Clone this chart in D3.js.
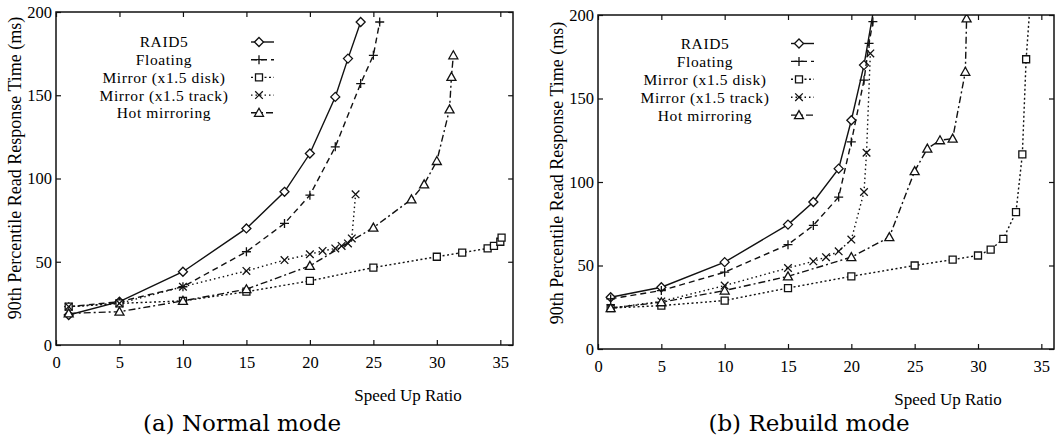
<!DOCTYPE html>
<html>
<head>
<meta charset="utf-8">
<script src="https://cdnjs.cloudflare.com/ajax/libs/d3/7.8.5/d3.min.js"></script>
<style>
  body { margin: 0; background: #fff; }
  svg { display: block; }
</style>
</head>
<body>
<svg id="chart" width="1056" height="443"></svg>
<script>
const seriesNames = ["RAID5", "Floating", "Mirror (x1.5 disk)", "Mirror (x1.5 track)", "Hot mirroring"];
const xTicks = [0, 5, 10, 15, 20, 25, 30, 35];
const yTicks = [0, 50, 100, 150, 200];

// (a) normal mode: [speed up ratio, 90th percentile ms]
const normalRaid5 = [[1, 18], [5, 26], [10, 44], [15, 70], [18, 92], [20, 115], [22, 149], [23, 172], [24, 194]];
const normalFloating = [[1, 23], [5, 26], [10, 35], [15, 56], [18, 73], [20, 90], [22, 119], [24, 157], [25, 174], [25.5, 194]];
const normalMirrorDisk = [[1, 23], [5, 25], [10, 26.5], [15, 32], [20, 38.5], [25, 46.5], [30, 53], [32, 55.5], [34, 58], [34.5, 59.5], [35, 62], [35.1, 64.5]];
const normalMirrorTrack = [[1, 23], [5, 25], [10, 35], [15, 44.5], [18, 51], [20, 54.5], [21, 56.5], [22, 58], [22.5, 59.5], [23, 61], [23.3, 64], [23.6, 90.5]];
const normalHot = [[1, 19], [5, 20], [10, 26.5], [15, 33.5], [20, 47.5], [25, 70.5], [28, 87.5], [29, 96.5], [30, 110.5], [31, 141.5], [31.15, 161], [31.3, 174]];

// (b) rebuild mode
const rebuildRaid5 = [[1, 31], [5, 37], [10, 52], [15, 74.5], [17, 88], [19, 108], [20, 137], [21, 170], [21.8, 205]];
const rebuildFloating = [[1, 30], [5, 35], [10, 46], [15, 62.5], [17, 74], [19, 91], [20, 124], [21, 161], [21.4, 183], [21.7, 196]];
const rebuildMirrorDisk = [[1, 24.5], [5, 26], [10, 29], [15, 36.5], [20, 43.5], [25, 50], [28, 53.5], [30, 56], [31, 59.5], [32, 66], [33, 82], [33.5, 116.5], [33.8, 173.5], [34.1, 205]];
const rebuildMirrorTrack = [[1, 24.5], [5, 28.5], [10, 38], [15, 48.5], [17, 52.5], [18, 55], [19, 58.5], [20, 65.5], [21, 94], [21.2, 117.5], [21.5, 177]];
const rebuildHot = [[1, 24.5], [5, 28], [10, 35], [15, 43.5], [20, 55], [23, 67], [25, 106.5], [26, 120], [27, 125], [28, 126], [29, 166], [29.1, 198]];

const lineStyles = [
    { dash: null, marker: "diamond" },
    { dash: "6,4", marker: "plus" },
    { dash: "2,2.5", marker: "square" },
    { dash: "1.5,3", marker: "cross" },
    { dash: "7,3,2,3", marker: "triangle" }
];

const markerPaths = {
    diamond: "M0,-4.5L4.5,0L0,4.5L-4.5,0Z",
    plus: "M-4.5,0H4.5M0,-4.5V4.5",
    square: "M-3.5,-3.5H3.5V3.5H-3.5Z",
    cross: "M-3.8,-3.8L3.8,3.8M-3.8,3.8L3.8,-3.8",
    triangle: "M0,-4.5L4.5,3.5L-4.5,3.5Z"
};

const panels = [
    {
        id: "a", left: 56, right: 513, top: 12, bottom: 345,
        caption: "(a) Normal mode", captionX: 242, yLabelX: 15, yLabelY: 168, xLabelX: 408,
        legendTextX: 164, legendY: 42, legendStep: 17.7, sampleX: 251,
        series: [normalRaid5, normalFloating, normalMirrorDisk, normalMirrorTrack, normalHot]
    },
    {
        id: "b", left: 598, right: 1054, top: 15, bottom: 349,
        caption: "(b) Rebuild mode", captionX: 809, yLabelX: 557, yLabelY: 173, xLabelX: 948,
        legendTextX: 705, legendY: 43.5, legendStep: 17.9, sampleX: 791,
        series: [rebuildRaid5, rebuildFloating, rebuildMirrorDisk, rebuildMirrorTrack, rebuildHot]
    }
];

const svg = d3.select("#chart");
const serif = "'Liberation Serif', 'Times New Roman', serif";

panels.forEach(p => {
    const x = d3.scaleLinear().domain([0, 36]).range([p.left, p.right]);
    const y = d3.scaleLinear().domain([0, 200]).range([p.bottom, p.top]);

    const g = svg.append("g").attr("class", "panel-" + p.id);

    svg.append("clipPath")
        .attr("id", "clip-" + p.id)
        .append("rect")
        .attr("x", p.left)
        .attr("y", p.top)
        .attr("width", p.right - p.left)
        .attr("height", p.bottom - p.top);

    // axes, ticks pointing inwards
    g.append("g")
        .attr("class", "x-axis")
        .attr("transform", `translate(0,${p.bottom})`)
        .call(d3.axisBottom(x).tickValues(xTicks).tickSize(-5).tickPadding(11));
    g.append("g")
        .attr("transform", `translate(0,${p.top})`)
        .call(d3.axisTop(x).tickValues(xTicks).tickSize(-5).tickFormat(""));
    g.append("g")
        .attr("class", "y-axis")
        .attr("transform", `translate(${p.left},0)`)
        .call(d3.axisLeft(y).tickValues(yTicks).tickSize(-5).tickPadding(4));
    g.append("g")
        .attr("transform", `translate(${p.right},0)`)
        .call(d3.axisRight(y).tickValues(yTicks).tickSize(-5).tickFormat(""));

    g.selectAll(".domain").remove();
    g.selectAll(".tick line").attr("stroke", "#111").attr("stroke-width", 1.2);
    g.selectAll(".tick text")
        .attr("fill", "#000")
        .style("font-family", serif)
        .style("font-size", "16.5px");

    g.append("rect")
        .attr("x", p.left)
        .attr("y", p.top)
        .attr("width", p.right - p.left)
        .attr("height", p.bottom - p.top)
        .attr("fill", "none")
        .attr("stroke", "#111")
        .attr("stroke-width", 1.5);

    const line = d3.line().x(d => x(d[0])).y(d => y(d[1]));
    const plot = g.append("g").attr("clip-path", `url(#clip-${p.id})`);

    p.series.forEach((data, i) => {
        const st = lineStyles[i];
        plot.append("path")
            .datum(data)
            .attr("d", line)
            .attr("fill", "none")
            .attr("stroke", "#111")
            .attr("stroke-width", 1.4)
            .attr("stroke-dasharray", st.dash);

        plot.selectAll(".m" + i)
            .data(data)
            .enter()
            .append("path")
            .attr("class", "m" + i)
            .attr("transform", d => `translate(${x(d[0])},${y(d[1])})`)
            .attr("d", markerPaths[st.marker])
            .attr("fill", "#fff")
            .attr("stroke", "#111")
            .attr("stroke-width", 1.3);
    });

    // legend
    const legend = g.append("g").attr("class", "legend");
    seriesNames.forEach((name, i) => {
        const st = lineStyles[i];
        const ly = p.legendY + i * p.legendStep;
        legend.append("text")
            .attr("x", p.legendTextX)
            .attr("y", ly)
            .attr("dy", "0.35em")
            .attr("text-anchor", "middle")
            .attr("letter-spacing", "0.6")
            .style("font-family", serif)
            .style("font-size", "15.5px")
            .text(name);
        legend.append("line")
            .attr("x1", p.sampleX)
            .attr("x2", p.sampleX + 23)
            .attr("y1", ly)
            .attr("y2", ly)
            .attr("stroke", "#111")
            .attr("stroke-width", 1.4)
            .attr("stroke-dasharray", st.dash);
        legend.append("path")
            .attr("transform", `translate(${p.sampleX + 8},${ly})`)
            .attr("d", markerPaths[st.marker])
            .attr("fill", "#fff")
            .attr("stroke", "#111")
            .attr("stroke-width", 1.3);
    });

    g.append("text")
        .attr("transform", `translate(${p.yLabelX},${p.yLabelY}) rotate(-90)`)
        .attr("dy", "0.35em")
        .attr("text-anchor", "middle")
        .style("font-family", serif)
        .style("font-size", "18px")
        .text("90th Percentile Read Response Time (ms)");

    g.append("text")
        .attr("x", p.xLabelX)
        .attr("y", p.bottom + 50)
        .attr("dy", "0.35em")
        .attr("text-anchor", "middle")
        .style("font-family", serif)
        .style("font-size", "17px")
        .text("Speed Up Ratio");

    g.append("text")
        .attr("x", p.captionX)
        .attr("y", 423)
        .attr("dy", "0.35em")
        .attr("text-anchor", "middle")
        .style("font-family", "'DejaVu Serif', serif")
        .style("font-size", "23px")
        .text(p.caption);
});
</script>
</body>
</html>
